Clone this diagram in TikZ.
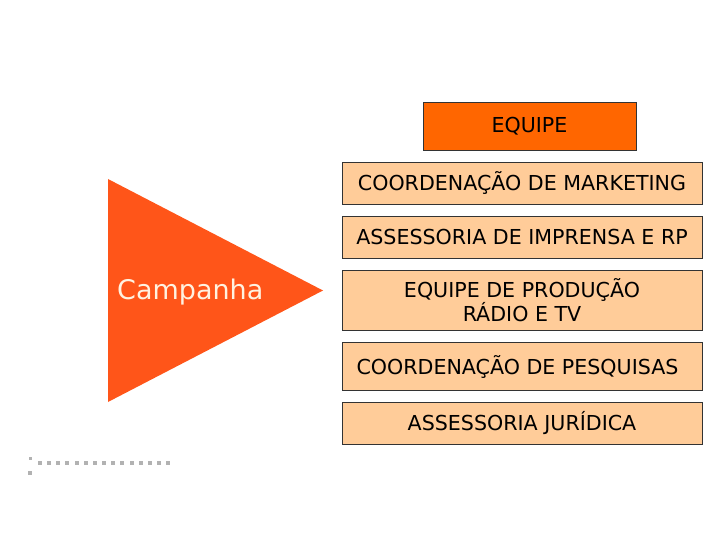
\documentclass[tikz,border=0pt]{standalone}
\usepackage{fontspec}
\setmainfont{DejaVu Sans}
\usetikzlibrary{positioning}
\definecolor{equipeorange}{HTML}{FF6600}
\definecolor{peach}{HTML}{FFCC99}
\definecolor{redorange}{HTML}{FF5519}
\definecolor{cream}{HTML}{FFF2E0}
\tikzset{
	areabox/.style={draw=black!80, fill=peach, minimum width=360bp, minimum height=42bp,
		inner sep=0pt, align=center, font=\fontsize{20.6bp}{24bp}\selectfont}
}
\tikzset{
	headbox/.style={areabox, fill=equipeorange, minimum width=213bp, minimum height=48bp}
}
\tikzset{
	dotsq/.style={fill=black!30, minimum size=4bp, inner sep=0pt}
}

\begin{document}
\begin{tikzpicture}[x=1bp,y=-1bp]
      \useasboundingbox (0,0) rectangle (720,540);
      % the big arrow on the left
      \fill[redorange] (108,179) -- (323,290.5) -- (108,402) -- cycle;
      \node[text=cream, font=\fontsize{27bp}{30bp}\selectfont, anchor=west, inner sep=0pt] (camp) at (117,292) {Campanha};
      \node[headbox] (equipe) at (529.5,126) {EQUIPE};
      \node[areabox] (mkt) at (522,183) {COORDENAÇÃO DE MARKETING};
      \node[areabox] (impr) at (522,237) {ASSESSORIA DE IMPRENSA E RP};
      \node[areabox, minimum height=60bp] (prod) at (522,300) {EQUIPE DE PRODUÇÃO\\RÁDIO E TV};
      % text sits a bit left of centre here
      \node[areabox, minimum height=48bp] (pesq) at (522,366.5) {COORDENAÇÃO DE PESQUISAS\hspace{9bp}};
      \node[areabox] (jur) at (522,423) {ASSESSORIA JURÍDICA};
      % little dotted mark, bottom left
      \foreach \i in {0,...,14}
        \node[dotsq] (dot\i) at (40+9.15*\i,463) {};
      \node[dotsq, minimum size=3bp] (dota) at (30,458) {};
      \node[dotsq] (dotb) at (30,473) {};
    \end{tikzpicture}
\end{document}
